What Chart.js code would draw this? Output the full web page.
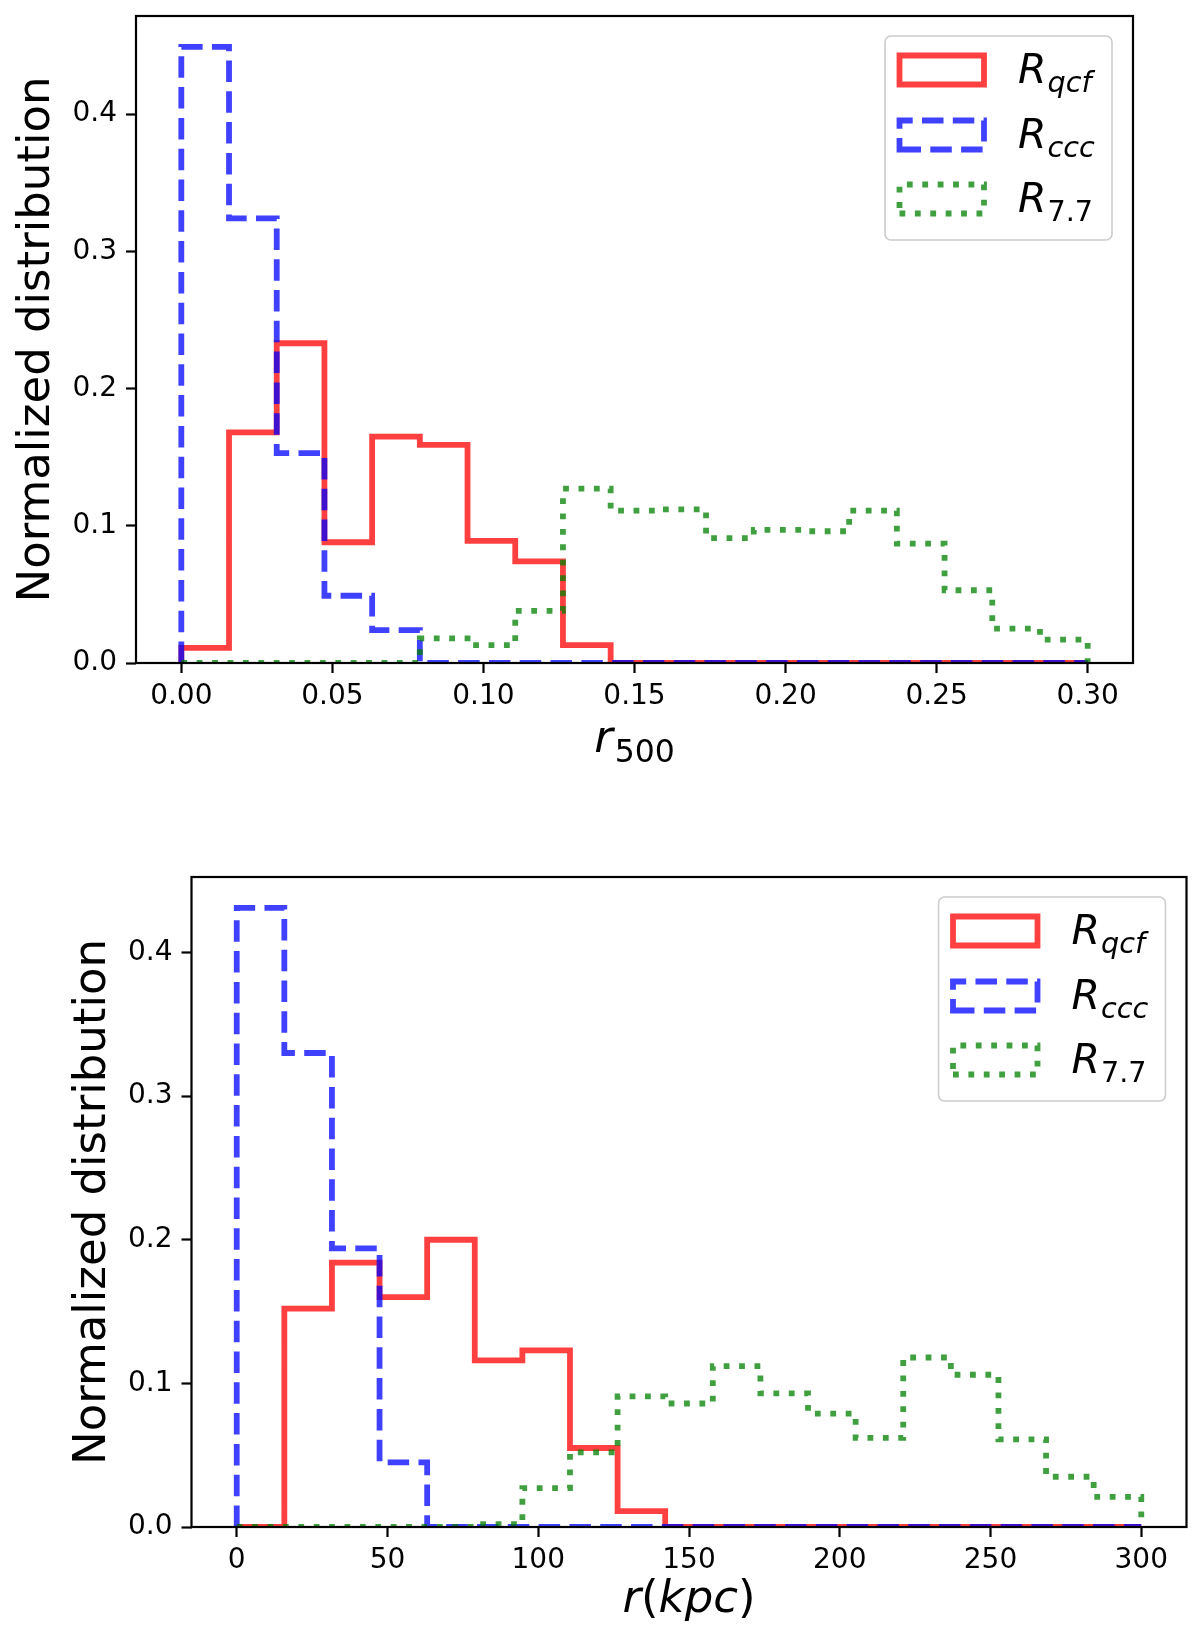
<!DOCTYPE html>
<html>
<head>
<meta charset="utf-8">
<title>Normalized distribution</title>
<script src="https://cdn.jsdelivr.net/npm/chart.js@4.4.1/dist/chart.umd.min.js"></script>
<style>
    html, body { margin: 0; padding: 0; background: #ffffff; }
    #wrap { position: relative; width: 1200px; height: 1630px; }
    #top-box { position: absolute; left: 0; top: 0; width: 1200px; height: 800px; }
    #bottom-box { position: absolute; left: 0; top: 800px; width: 1200px; height: 830px; }
</style>
</head>
<body>
<div id="wrap">
    <div id="top-box"><canvas id="hist-r500"></canvas></div>
    <div id="bottom-box"><canvas id="hist-kpc"></canvas></div>
</div>
<script>
// subscripts of the three R samples (legend)
const series_names = ["qcf", "ccc", "7.7"];
const n_bins = 19;

const y_ticks = [0, 0.1, 0.2, 0.3, 0.4];
const y_tick_labels = ["0.0", "0.1", "0.2", "0.3", "0.4"];

// top panel, r in units of r500
const r500_range = [0, 0.3];
const r500_ticks = [0, 0.05, 0.10, 0.15, 0.20, 0.25, 0.30];
const r500_tick_labels = ["0.00", "0.05", "0.10", "0.15", "0.20", "0.25", "0.30"];
const r500_qcf = [0.011, 0.168, 0.233, 0.088, 0.165, 0.159, 0.089, 0.074, 0.013, 0, 0, 0, 0, 0, 0, 0, 0, 0, 0];
const r500_ccc = [0.449, 0.324, 0.153, 0.049, 0.024, 0, 0, 0, 0, 0, 0, 0, 0, 0, 0, 0, 0, 0, 0];
const r500_77 = [0, 0, 0, 0, 0, 0.018, 0.013, 0.038, 0.127, 0.111, 0.112, 0.091, 0.097, 0.096, 0.111, 0.087, 0.053, 0.025, 0.017];

// bottom panel, r in kpc
const kpc_range = [0, 300];
const kpc_ticks = [0, 50, 100, 150, 200, 250, 300];
const kpc_tick_labels = ["0", "50", "100", "150", "200", "250", "300"];
const kpc_qcf = [0, 0.152, 0.184, 0.160, 0.200, 0.116, 0.123, 0.055, 0.011, 0, 0, 0, 0, 0, 0, 0, 0, 0, 0];
const kpc_ccc = [0.431, 0.330, 0.194, 0.045, 0, 0, 0, 0, 0, 0, 0, 0, 0, 0, 0, 0, 0, 0, 0];
const kpc_77 = [0, 0, 0, 0, 0, 0.002, 0.027, 0.052, 0.091, 0.086, 0.112, 0.093, 0.079, 0.062, 0.118, 0.106, 0.061, 0.035, 0.021];

const line_width = 5.8;
const styles = [
    { color: "rgba(255, 0, 0, 0.75)", dash: [], order: 3 },
    { color: "rgba(0, 0, 255, 0.75)", dash: [21.5, 9.3], order: 2 },
    { color: "rgba(0, 128, 0, 0.75)", dash: [5.8, 9.6], order: 1 }
];

const FONT = "'DejaVu Sans'";

function bin_edges(range, n) {
    let edges = [];
    for (let i = 0; i <= n; i++) {
        edges.push(range[0] + i * (range[1] - range[0]) / n);
    }
    return edges;
}

// histtype='step' outline: up from the first edge, down at the last one
function step_points(edges, values) {
    let pts = [{ x: edges[0], y: 0 }];
    values.forEach((v, i) => pts.push({ x: edges[i], y: v }));
    pts.push({ x: edges[edges.length - 1], y: 0 });
    return pts;
}

// draws a run of mathtext-like pieces centred on x
function draw_math(ctx, parts, x, y) {
    let width = 0;
    parts.forEach(p => {
        ctx.font = (p.italic ? "italic " : "") + p.size + "px " + FONT;
        p.w = ctx.measureText(p.text).width;
        width += p.w + (p.gap || 0);
    });
    let cx = x - width / 2;
    ctx.textAlign = "left";
    ctx.textBaseline = "alphabetic";
    parts.forEach(p => {
        ctx.font = (p.italic ? "italic " : "") + p.size + "px " + FONT;
        cx += (p.gap || 0);
        ctx.fillText(p.text, cx, y + (p.dy || 0));
        cx += p.w;
    });
}

function draw_legend_text(ctx, sub, x, y) {
    ctx.textAlign = "left";
    ctx.textBaseline = "alphabetic";
    ctx.font = "italic 41px " + FONT;
    ctx.fillText("R", x, y);
    let w = ctx.measureText("R").width;
    let italic_sub = /[a-z]/.test(sub);
    ctx.font = (italic_sub ? "italic " : "") + "28.7px " + FONT;
    ctx.fillText(sub, x + w + 1, y + 9);
}

const figure_text = {
    id: "figure_text",
    afterDatasetsDraw(chart, args, opts) {
        const ctx = chart.ctx;
        const area = chart.chartArea;
        ctx.save();
        ctx.fillStyle = "#000000";

        // axes frame
        ctx.strokeStyle = "#000000";
        ctx.lineWidth = 2.2;
        ctx.setLineDash([]);
        ctx.strokeRect(area.left, area.top, area.right - area.left, area.bottom - area.top);

        // y title
        ctx.save();
        ctx.translate(opts.y_title_x, (area.top + area.bottom) / 2);
        ctx.rotate(-Math.PI / 2);
        ctx.font = "45px " + FONT;
        ctx.textAlign = "center";
        ctx.textBaseline = "alphabetic";
        ctx.fillText("Normalized distribution", 0, 0);
        ctx.restore();

        // x title
        draw_math(ctx, opts.x_title, (area.left + area.right) / 2, opts.x_title_y);

        // legend, upper right
        const box_w = 227, box_h = 204;
        const bx = area.right - 21 - box_w;
        const by = area.top + 20;
        ctx.beginPath();
        ctx.roundRect(bx, by, box_w, box_h, 6);
        ctx.fillStyle = "rgba(255, 255, 255, 0.8)";
        ctx.fill();
        ctx.strokeStyle = "#cccccc";
        ctx.lineWidth = 1.6;
        ctx.stroke();

        const rows = [34, 99, 163];
        series_names.forEach((name, i) => {
            const cy = by + rows[i];
            const px = bx + 14.5, pw = 84.5, ph = 29;
            ctx.beginPath();
            ctx.moveTo(px, cy + ph / 2);
            ctx.lineTo(px + pw, cy + ph / 2);
            ctx.lineTo(px + pw, cy - ph / 2);
            ctx.lineTo(px, cy - ph / 2);
            ctx.closePath();
            ctx.strokeStyle = styles[i].color;
            ctx.lineWidth = line_width;
            ctx.setLineDash(styles[i].dash);
            ctx.lineCap = "butt";
            ctx.lineJoin = "miter";
            ctx.stroke();
            ctx.setLineDash([]);
            ctx.fillStyle = "#000000";
            draw_legend_text(ctx, name, bx + 133, cy + 12.5);
        });
        ctx.restore();
    }
};

function make_chart(canvas_id, cfg) {
    const edges = bin_edges(cfg.range, n_bins);
    const span = cfg.range[1] - cfg.range[0];
    const all_values = cfg.series.flat();
    const y_max = Math.max(...all_values) * 1.05;

    const datasets = cfg.series.map((values, i) => ({
        data: step_points(edges, values),
        borderColor: styles[i].color,
        borderWidth: line_width,
        borderDash: styles[i].dash,
        borderCapStyle: "butt",
        borderJoinStyle: "miter",
        stepped: "before",
        pointRadius: 0,
        fill: false,
        clip: 0,
        order: styles[i].order
    }));

    const tick_font = { family: FONT, size: 28 };
    const grid = {
        display: true,
        drawOnChartArea: false,
        drawTicks: true,
        tickLength: 10,
        tickWidth: 2.2,
        tickColor: "#000000"
    };

    return new Chart(document.getElementById(canvas_id), {
        type: "line",
        data: { datasets: datasets },
        plugins: [figure_text],
        options: {
            responsive: true,
            maintainAspectRatio: false,
            animation: false,
            events: [],
            layout: { padding: cfg.padding },
            scales: {
                x: {
                    type: "linear",
                    min: cfg.range[0] - 0.05 * span,
                    max: cfg.range[1] + 0.05 * span,
                    afterBuildTicks: scale => { scale.ticks = cfg.ticks.map(v => ({ value: v })); },
                    afterFit: scale => {
                        scale.height = cfg.x_height;
                        scale.paddingLeft = 0;
                        scale.paddingRight = 0;
                    },
                    ticks: {
                        autoSkip: false,
                        maxRotation: 0,
                        color: "#000000",
                        font: tick_font,
                        padding: 7,
                        callback: (value, index) => cfg.tick_labels[index]
                    },
                    grid: grid,
                    border: { display: false }
                },
                y: {
                    type: "linear",
                    min: 0,
                    max: y_max,
                    afterBuildTicks: scale => { scale.ticks = y_ticks.map(v => ({ value: v })); },
                    afterFit: scale => {
                        scale.width = cfg.y_width;
                        scale.paddingTop = 0;
                        scale.paddingBottom = 0;
                    },
                    ticks: {
                        color: "#000000",
                        font: tick_font,
                        padding: 9,
                        callback: (value, index) => y_tick_labels[index]
                    },
                    grid: grid,
                    border: { display: false }
                }
            },
            plugins: {
                legend: { display: false },
                tooltip: { enabled: false },
                figure_text: {
                    y_title_x: cfg.y_title_x,
                    x_title: cfg.x_title,
                    x_title_y: cfg.x_title_y
                }
            }
        }
    });
}

let r500_chart = make_chart("hist-r500", {
    range: r500_range,
    ticks: r500_ticks,
    tick_labels: r500_tick_labels,
    series: [r500_qcf, r500_ccc, r500_77],
    padding: { left: 0, right: 67, top: 16, bottom: 0 },
    x_height: 137,
    y_width: 136,
    y_title_x: 49,
    x_title_y: 752,
    x_title: [
        { text: "r", size: 45, italic: true },
        { text: "500", size: 31.5, dy: 10, gap: 2 }
    ]
});

let kpc_chart = make_chart("hist-kpc", {
    range: kpc_range,
    ticks: kpc_ticks,
    tick_labels: kpc_tick_labels,
    series: [kpc_qcf, kpc_ccc, kpc_77],
    padding: { left: 0, right: 13.5, top: 77, bottom: 0 },
    x_height: 103,
    y_width: 191.5,
    y_title_x: 105,
    x_title_y: 812,
    x_title: [
        { text: "r", size: 45, italic: true },
        { text: "(", size: 45 },
        { text: "kpc", size: 45, italic: true },
        { text: ")", size: 45 }
    ]
});
</script>
</body>
</html>
